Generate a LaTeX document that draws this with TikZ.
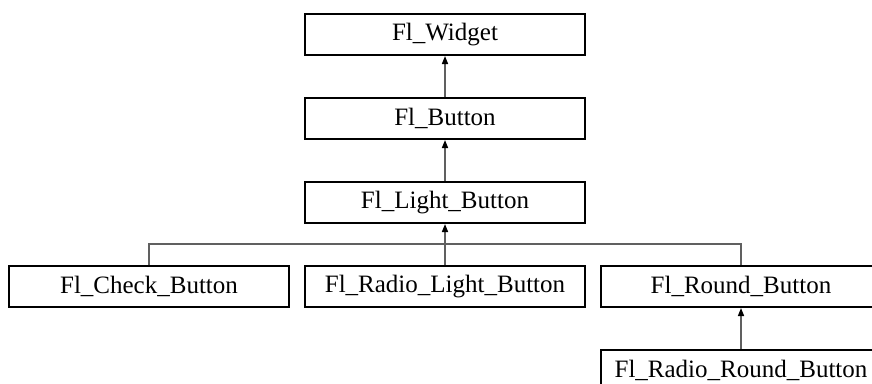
\documentclass[tikz,border=0pt]{standalone}
\usepackage{fontspec}
\setmainfont{Liberation Serif}
\usetikzlibrary{arrows.meta}
\definecolor{conncol}{HTML}{606060}
\begin{document}
\begin{tikzpicture}[x=1pt,y=-1pt,
  cls/.style={draw=black,line width=2pt,fill=white,anchor=north west,
    minimum width=280pt,minimum height=41pt,inner sep=0pt,
    font=\fontsize{25}{30}\selectfont},
  conn/.style={draw=conncol,line width=1.5pt},
  inh/.style={conn,-{Triangle[length=8pt,width=6pt,fill=black,color=black]}}]
\useasboundingbox (0,0) rectangle (872,383);
\node[cls] (widget) at (304,13) {Fl\_Widget};
\node[cls] (button) at (304,97) {Fl\_Button};
\node[cls] (light) at (304,181) {Fl\_Light\_Button};
\node[cls] (check) at (8,265) {Fl\_Check\_Button};
\node[cls] (rlight) at (304,265) {Fl\_Radio\_Light\_Button};
\node[cls] (round) at (600,265) {Fl\_Round\_Button};
\node[cls] (rround) at (600,349) {Fl\_Radio\_Round\_Button};
\coordinate (jn) at (444,244);
\draw[inh] (button.north) -- (widget.south);
\draw[inh] (light.north) -- (button.south);
\draw[inh] (rlight.north) -- (light.south);
\draw[conn] (check.north) |- (jn) -| (round.north);
\draw[inh] (rround.north) -- (round.south);
\end{tikzpicture}
\end{document}
